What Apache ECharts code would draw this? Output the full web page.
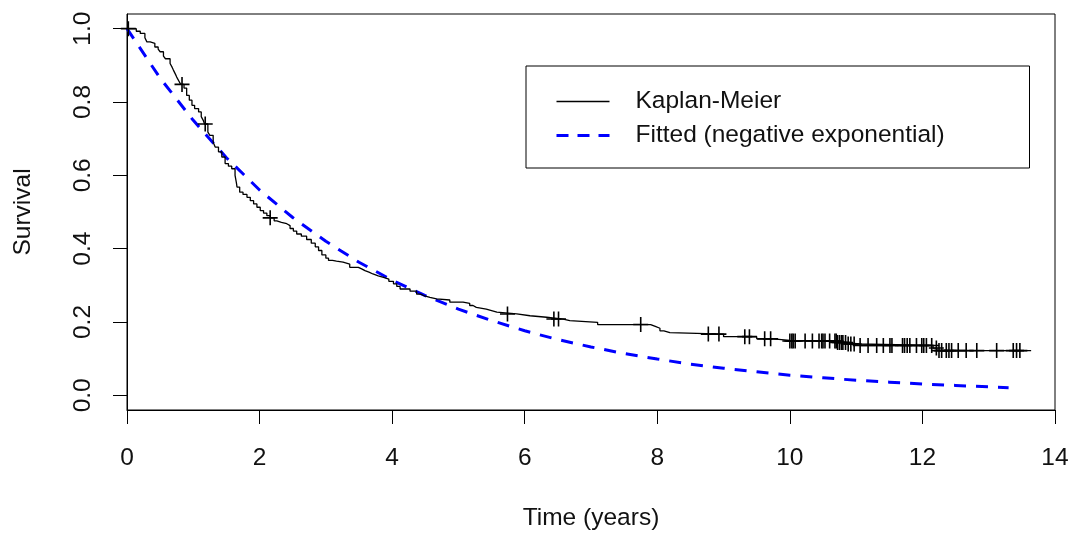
<!DOCTYPE html>
<html><head><meta charset="utf-8">
<script src="https://cdn.jsdelivr.net/npm/echarts@6/dist/echarts.min.js"></script>
<style>html,body{margin:0;padding:0;background:#fff;}#c{width:1073px;height:534px;}</style>
</head><body><div id="c"></div>
<script>
// Kaplan-Meier step curve (time of drop, survival after drop)
const kmTime = [0,0.14,0.20,0.27,0.30,0.35,0.42,0.47,0.50,0.55,0.58,0.65,0.68,0.70,0.73,0.75,0.78,0.81,0.86,0.90,0.94,0.98,1.02,1.08,1.12,1.15,1.17,1.22,1.25,1.30,1.33,1.38,1.43,1.48,1.53,1.58,1.63,1.65,1.66,1.70,1.75,1.81,1.86,1.91,1.96,2.01,2.06,2.11,2.16,2.22,2.26,2.33,2.41,2.46,2.51,2.56,2.63,2.71,2.78,2.84,2.89,2.94,3.00,3.04,3.10,3.16,3.26,3.36,3.49,3.54,3.59,3.65,3.71,3.79,3.87,3.95,4.02,4.07,4.12,4.27,4.37,4.43,4.49,4.57,4.67,4.87,5.07,5.17,5.22,5.27,5.42,5.50,5.58,5.88,6.08,6.33,6.58,6.68,7.10,7.90,7.97,8.04,8.10,8.19,9.00,9.50,9.75,10.00,10.72,10.85,11.05,12.16,12.22,13.64];
const kmSurv = [1.0,0.993,0.987,0.975,0.964,0.960,0.950,0.944,0.937,0.925,0.918,0.905,0.895,0.887,0.876,0.868,0.858,0.848,0.838,0.818,0.805,0.791,0.782,0.773,0.760,0.750,0.740,0.718,0.709,0.690,0.677,0.664,0.650,0.632,0.625,0.618,0.600,0.580,0.568,0.554,0.548,0.540,0.531,0.522,0.513,0.504,0.497,0.490,0.484,0.476,0.472,0.468,0.463,0.455,0.448,0.440,0.434,0.425,0.415,0.405,0.395,0.383,0.374,0.368,0.366,0.363,0.358,0.349,0.345,0.340,0.336,0.331,0.326,0.322,0.317,0.311,0.304,0.297,0.290,0.284,0.276,0.271,0.267,0.263,0.260,0.254,0.251,0.245,0.240,0.235,0.231,0.227,0.222,0.217,0.213,0.208,0.204,0.199,0.193,0.188,0.183,0.176,0.171,0.167,0.160,0.154,0.150,0.148,0.144,0.140,0.136,0.129,0.122,0.122];
// censoring times (marked with +)
const censorTime = [0.02,0.83,1.18,2.16,5.74,6.44,6.51,7.75,8.77,8.93,9.32,9.39,9.62,9.71,10.0,10.03,10.05,10.08,10.23,10.34,10.44,10.48,10.5,10.53,10.6,10.68,10.7,10.72,10.75,10.78,10.8,10.84,10.88,10.92,10.97,11.06,11.18,11.31,11.41,11.51,11.54,11.7,11.73,11.77,11.81,11.91,11.99,12.02,12.06,12.14,12.21,12.25,12.29,12.36,12.4,12.44,12.54,12.66,12.82,13.12,13.37,13.42,13.47];
// fitted negative exponential
const fitTime = [0,0.5,1,1.5,2,2.5,3,3.5,4,4.5,5,5.5,6,6.5,7,7.5,8,8.5,9,9.5,10,10.5,11,11.5,12,12.5,13,13.3];
const fitSurv = [1.0,0.865,0.75,0.648,0.56,0.485,0.42,0.363,0.314,0.272,0.235,0.204,0.176,0.152,0.132,0.114,0.099,0.085,0.074,0.064,0.055,0.048,0.041,0.036,0.031,0.027,0.023,0.021];
const yTicks = [0,0.2,0.4,0.6,0.8,1.0];
const seriesNames = ['Kaplan-Meier','Fitted (negative exponential)'];

const FONT = '"Liberation Sans", Arial, sans-serif';
const TXT = '#111';
const FS = 24.5;
function kmAt(t){let s=kmSurv[0];for(let i=0;i<kmTime.length;i++){if(kmTime[i]<=t)s=kmSurv[i];else break;}return s;}
const kmData = kmTime.map((t,i)=>[t,kmSurv[i]]);
const fitData = fitTime.map((t,i)=>[t,fitSurv[i]]);
const censorData = censorTime.map(t=>[t,kmAt(t)]);
const plusPath = 'path://M6.7,0H8.3V6.7H15V8.3H8.3V15H6.7V8.3H0V6.7H6.7Z';

const chart = echarts.init(document.getElementById('c'), null, {renderer:'canvas'});
chart.setOption({
  animation:false,
  backgroundColor:'#fff',
  grid:{left:127,right:18,top:14,bottom:124,show:true,borderColor:'#000',borderWidth:1,backgroundColor:'transparent',containLabel:false,outerBoundsMode:'none'},
  legend:{
    data:[
      {name:seriesNames[0], lineStyle:{color:'#000',width:1.3,type:'solid'}},
      {name:seriesNames[1], lineStyle:{color:'#0000ff',width:3,type:[12,9],cap:'butt'}}
    ],
    orient:'vertical', left:526, top:66,
    itemWidth:53, itemHeight:14, itemGap:9,
    padding:[23,84,20,29], borderColor:'#000', borderWidth:1, borderRadius:0,
    selectedMode:false,
    itemStyle:{opacity:0},
    textStyle:{fontSize:FS, color:TXT, fontFamily:FONT, padding:[0,0,0,21], width:310, lineHeight:24}
  },
  xAxis:{
    type:'value', min:0, max:14, interval:2,
    axisLine:{show:true,onZero:false,lineStyle:{color:'#000',width:1}},
    axisTick:{show:true,length:14,lineStyle:{color:'#000',width:1}},
    axisLabel:{fontSize:FS,color:TXT,fontFamily:FONT,margin:36,showMinLabel:true,showMaxLabel:true},
    splitLine:{show:false},
    name:'Time (years)', nameLocation:'middle', nameGap:96,
    nameTextStyle:{fontSize:FS,color:TXT,fontFamily:FONT}
  },
  yAxis:{
    type:'value', min:-0.04, max:1.04,
    axisLine:{show:true,onZero:false,lineStyle:{color:'#000',width:1}},
    axisTick:{show:true,length:14,customValues:yTicks,lineStyle:{color:'#000',width:1}},
    axisLabel:{customValues:yTicks,rotate:90,fontSize:FS,color:TXT,fontFamily:FONT,margin:31,formatter:v=>Number(v).toFixed(1)},
    splitLine:{show:false},
    name:'Survival', nameLocation:'middle', nameGap:91, nameRotate:90,
    nameTextStyle:{fontSize:FS,color:TXT,fontFamily:FONT}
  },
  series:[
    {name:seriesNames[0], type:'line', step:'end', symbol:'none', data:kmData,
     lineStyle:{color:'#000',width:1.3}, itemStyle:{color:'#000'}, z:3},
    {name:seriesNames[1], type:'line', symbol:'none', data:fitData,
     lineStyle:{color:'#0000ff',width:3,type:[12,10],cap:'butt'}, itemStyle:{color:'#0000ff'}, z:2},
    {name:'censored', type:'scatter', symbol:plusPath, symbolSize:15, data:censorData,
     itemStyle:{color:'#000',opacity:1}, z:4, silent:true}
  ]
});
</script></body></html>
